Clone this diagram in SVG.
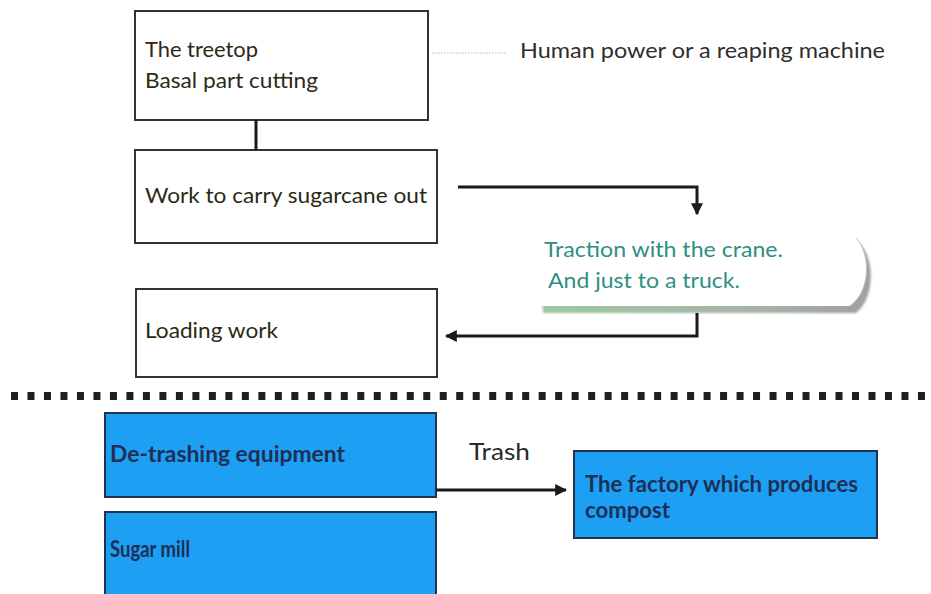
<svg xmlns="http://www.w3.org/2000/svg" width="931" height="594" viewBox="0 0 931 594">
  <defs>
    <style>
      .box { fill: #ffffff; stroke: #333333; stroke-width: 2; }
      .bluebox { fill: #1d9ff3; stroke: #22324f; stroke-width: 2; }
      .t { font-family: Lato, "Open Sans", sans-serif; font-size: 21px; fill: #2b2a14; }
      .tb { font-family: Lato, "Open Sans", sans-serif; font-size: 22px; font-weight: bold; fill: #1e2f55; }
      .tg { font-family: Lato, "Open Sans", sans-serif; font-size: 21px; fill: #2f8f80; }
      .conn { fill: none; stroke: #1a1a1a; stroke-width: 3; }
    </style>
    <marker id="arrow" viewBox="0 0 10 10" refX="9" refY="5" markerWidth="4" markerHeight="4" orient="auto" markerUnits="strokeWidth">
      <path d="M0,0 L10,5 L0,10 Z" fill="#1a1a1a"/>
    </marker>
    <linearGradient id="shadowGrad" x1="0" y1="0" x2="1" y2="0">
      <stop offset="0" stop-color="#9dc8a2"/>
      <stop offset="0.6" stop-color="#a8b5a8"/>
      <stop offset="1" stop-color="#a0a0a0"/>
    </linearGradient>
    <filter id="soft" x="-5%" y="-20%" width="110%" height="140%">
      <feGaussianBlur stdDeviation="0.8"/>
    </filter>
  </defs>

  <!-- field work boxes -->
  <g id="node-cutting">
    <rect class="box" x="135" y="11" width="293" height="109"/>
    <text class="t" x="145" y="57" textLength="113" lengthAdjust="spacingAndGlyphs">The treetop</text>
    <text class="t" x="145" y="88" textLength="173" lengthAdjust="spacingAndGlyphs">Basal part cutting</text>
  </g>

  <g id="node-power-note">
    <line x1="432" y1="53" x2="507" y2="53" stroke="#b8b8b8" stroke-width="1" stroke-dasharray="1.5 1.5"/>
    <text class="t" x="520" y="58" style="fill:#2e2e2e" textLength="365" lengthAdjust="spacingAndGlyphs">Human power or a reaping machine</text>
  </g>

  <g id="node-carry">
    <rect class="box" x="135" y="150" width="302" height="93"/>
    <text class="t" x="145" y="203" textLength="282" lengthAdjust="spacingAndGlyphs">Work to carry sugarcane out</text>
  </g>

  <g id="node-traction">
    <path d="M539,244 L860,244 C874,257 876,297 856,313 L543,313 Z" fill="url(#shadowGrad)" filter="url(#soft)"/>
    <path d="M533,238 L856,238 C870,252 872,290 850,306 L537,306 Z" fill="#ffffff"/>
    <path d="M856,238 C870,252 872,290 850,306" fill="none" stroke="#c0c0c0" stroke-width="1"/>
    <text class="tg" x="544" y="257" textLength="239" lengthAdjust="spacingAndGlyphs">Traction with the crane.</text>
    <text class="tg" x="548" y="288" textLength="192" lengthAdjust="spacingAndGlyphs">And just to a truck.</text>
  </g>

  <g id="node-loading">
    <rect class="box" x="136" y="289" width="301" height="88"/>
    <text class="t" x="145" y="338" textLength="133" lengthAdjust="spacingAndGlyphs">Loading work</text>
  </g>

  <!-- divider between field and factory stages -->
  <line x1="11" y1="396" x2="926" y2="396" stroke="#1f1f1f" stroke-width="8" stroke-dasharray="7 9.49"/>

  <!-- factory boxes -->
  <g id="node-detrashing">
    <rect class="bluebox" x="105" y="413" width="331" height="84"/>
    <text class="tb" x="110" y="462" textLength="235" lengthAdjust="spacingAndGlyphs">De-trashing equipment</text>
  </g>

  <g id="node-sugarmill">
    <rect class="bluebox" x="105" y="512" width="331" height="90"/>
    <text class="tb" x="110" y="557" textLength="80" lengthAdjust="spacingAndGlyphs">Sugar mill</text>
  </g>

  <g id="node-compost">
    <rect class="bluebox" x="574" y="451" width="303" height="87"/>
    <text class="tb" x="585" y="492" textLength="273" lengthAdjust="spacingAndGlyphs">The factory which produces</text>
    <text class="tb" x="585" y="518" textLength="85" lengthAdjust="spacingAndGlyphs">compost</text>
  </g>

  <!-- connectors -->
  <g id="connectors">
    <line class="conn" x1="256" y1="120" x2="256" y2="150"/>
    <path class="conn" d="M458,187 L697,187 L697,214" marker-end="url(#arrow)"/>
    <path class="conn" d="M697,313 L697,336 L446,336" marker-end="url(#arrow)"/>
    <line class="conn" x1="436" y1="490" x2="566" y2="490" marker-end="url(#arrow)"/>
    <text x="469" y="460" font-family="Lato, 'Open Sans', sans-serif" font-size="23" fill="#2a2a2a" textLength="61" lengthAdjust="spacingAndGlyphs">Trash</text>
  </g>
</svg>
